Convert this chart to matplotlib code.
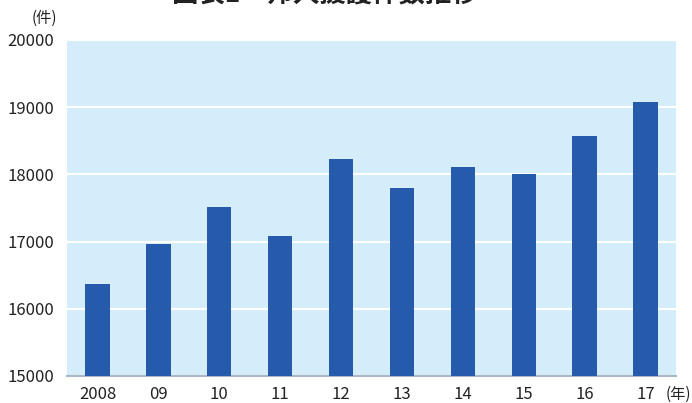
import matplotlib.pyplot as plt
import numpy as np

plt.rcParams['font.family'] = ['Noto Sans CJK JP', 'DejaVu Sans']

years = ["2008", "09", "10", "11", "12", "13", "14", "15", "16", "17"]
cases = [16370, 16960, 17515, 17085, 18230, 17800, 18110, 18005, 18570, 19075]
yticks = [15000, 16000, 17000, 18000, 19000, 20000]

barColor = "#255baa"
bgColor = "#d5edfa"

fig = plt.figure(figsize=(6.92, 4.03), dpi=100)
ax = fig.add_axes([67 / 692, 1 - 376 / 403, 609 / 692, 336 / 403])
ax.set_facecolor(bgColor)

x = np.arange(len(years))
ax.bar(x, cases, width=0.4, color=barColor, zorder=3)

ax.set_xlim(-0.5, len(years) - 0.5)
ax.set_ylim(15000, 20000)
ax.set_yticks(yticks)
ax.set_xticks(x)
ax.set_xticklabels(years)
ax.grid(axis="y", color="white", linewidth=1.5, zorder=1)
ax.tick_params(length=0, labelsize=12, colors="#222222")
ax.tick_params(axis="x", pad=7)
ax.tick_params(axis="y", pad=9)

for s in ["top", "right", "left"]:
    ax.spines[s].set_visible(False)
ax.spines["bottom"].set_color("#aab8c4")
ax.spines["bottom"].set_linewidth(1.5)

fig.text(57 / 692, 1 - 18 / 403, "(件)", ha="right", va="center", fontsize=11, color="#222222")
fig.text(666 / 692, 1 - 394 / 403, "(年)", ha="left", va="center", fontsize=11, color="#222222")
fig.text(0.47, 1 + 5 / 403, "図表1　邦人援護件数推移", ha="center", va="center",
         fontsize=19, fontweight="bold", color="#222222")

fig.savefig("out.png", dpi=100)
